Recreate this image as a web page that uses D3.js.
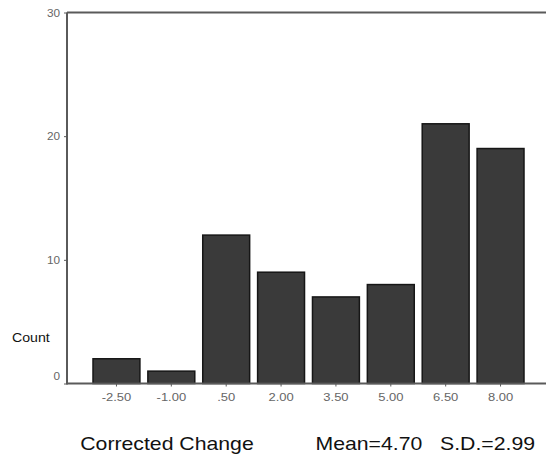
<!DOCTYPE html>
<html>
<head>
<meta charset="utf-8">
<script src="https://cdn.jsdelivr.net/npm/d3@7/dist/d3.min.js"></script>
<style>
  html, body { margin: 0; padding: 0; background: #fff; }
  svg { display: block; }
</style>
</head>
<body>
<svg id="chart" width="546" height="455"></svg>
<script>
// Histogram of corrected change scores
const categories = ["-2.50", "-1.00", ".50", "2.00", "3.50", "5.00", "6.50", "8.00"];
const counts = [2, 1, 12, 9, 7, 8, 21, 19];
const yTicks = [0, 10, 20, 30];
const xTitle = "Corrected Change";
const statsText = "Mean=4.70   S.D.=2.99";

const svg = d3.select("#chart");
const plotLeft = 67, plotRight = 546, plotTop = 12.5, plotBottom = 383.5;
const font = "Liberation Sans, Arial, sans-serif";
const stretch = 1.18; // labels are set slightly wide

const x = d3.scaleBand()
  .domain(categories)
  .range([93, 524])
  .paddingInner(0.145)
  .paddingOuter(0);

const y = d3.scaleLinear().domain([0, 30]).range([plotBottom, plotTop]);

// bars
svg.append("g")
  .selectAll("rect")
  .data(categories.map((c, i) => ({ c, v: counts[i] })))
  .join("rect")
  .attr("x", d => x(d.c))
  .attr("y", d => y(d.v))
  .attr("width", x.bandwidth())
  .attr("height", d => y(0) - y(d.v))
  .attr("fill", "#3a3a3a")
  .attr("stroke", "#161616")
  .attr("stroke-width", 1.5);

// frame lines: left axis, top border, baseline
const lineColor = "#5a5a5a";
svg.append("line").attr("x1", plotLeft).attr("x2", plotLeft).attr("y1", plotTop).attr("y2", plotBottom + 1)
  .attr("stroke", lineColor).attr("stroke-width", 2);
svg.append("line").attr("x1", plotLeft).attr("x2", plotRight).attr("y1", plotTop).attr("y2", plotTop)
  .attr("stroke", lineColor).attr("stroke-width", 2);
svg.append("line").attr("x1", plotLeft).attr("x2", plotRight).attr("y1", plotBottom).attr("y2", plotBottom)
  .attr("stroke", lineColor).attr("stroke-width", 2);

// y axis ticks and labels
const yAxis = d3.axisLeft(y).tickValues(yTicks).tickSize(3).tickPadding(4).tickFormat(d3.format("d"));
const gy = svg.append("g").attr("transform", `translate(${plotLeft},0)`).call(yAxis);
gy.select(".domain").remove();
gy.selectAll(".tick line").attr("stroke", lineColor);
gy.selectAll(".tick text")
  .attr("fill", "#666")
  .attr("font-family", font)
  .attr("font-size", 10)
  .attr("dy", d => d === 0 ? "-0.45em" : "0.35em")
  .attr("transform", `scale(${stretch},1)`)
  .attr("x", -7 / stretch);

// x axis ticks and labels
const xAxis = d3.axisBottom(x).tickSize(3).tickPadding(7);
const gx = svg.append("g").attr("transform", `translate(0,${plotBottom})`).call(xAxis);
gx.select(".domain").remove();
gx.selectAll(".tick line").attr("stroke", lineColor);
gx.selectAll(".tick text")
  .attr("fill", "#666")
  .attr("font-family", font)
  .attr("font-size", 11)
  .attr("transform", `scale(${stretch},1)`);

// y title
svg.append("text")
  .attr("x", 12 / stretch).attr("y", 342)
  .attr("transform", `scale(${stretch},1)`)
  .attr("font-family", font)
  .attr("font-size", 12)
  .attr("fill", "#111")
  .text("Count");

// x title and summary stats
svg.append("text")
  .attr("x", 167 / stretch).attr("y", 450)
  .attr("transform", `scale(${stretch},1)`)
  .attr("text-anchor", "middle")
  .attr("font-family", font)
  .attr("font-size", 18)
  .attr("fill", "#111")
  .text(xTitle);

svg.append("text")
  .attr("x", 535 / stretch).attr("y", 450)
  .attr("transform", `scale(${stretch},1)`)
  .attr("text-anchor", "end")
  .attr("font-family", font)
  .attr("font-size", 18)
  .attr("fill", "#111")
  .style("white-space", "pre")
  .text(statsText);
</script>
</body>
</html>
